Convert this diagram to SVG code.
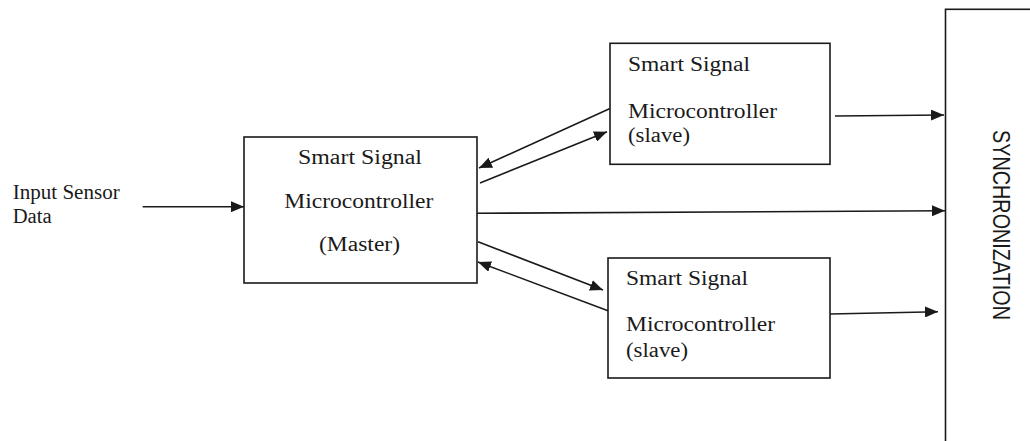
<svg xmlns="http://www.w3.org/2000/svg" width="1030" height="441" viewBox="0 0 1030 441">
<style>
.box{fill:#fff;stroke:#1a1a1a;stroke-width:1.6}
.t{font-family:"Liberation Serif","Times New Roman",serif;font-size:20px;fill:#1a1a1a}
.s{font-family:"Liberation Sans",Arial,sans-serif;font-size:19.7px;fill:#1a1a1a}
.c{fill:none;stroke:#1a1a1a;stroke-width:1.6}
</style>
<defs>
<marker id="ah" markerUnits="userSpaceOnUse" markerWidth="13" markerHeight="11" refX="13" refY="5.5" orient="auto">
<path d="M0,0 L13,5.5 L0,11 z" fill="#1a1a1a"/>
</marker>
</defs>
<rect width="1030" height="441" fill="#fff"/>
<g id="input">
<text class="t" x="12.7" y="199.3" textLength="107" lengthAdjust="spacingAndGlyphs">Input Sensor</text>
<text class="t" x="12.7" y="223.3" textLength="39" lengthAdjust="spacingAndGlyphs">Data</text>
</g>
<g id="master">
<rect class="box" x="244" y="137" width="233" height="146"/>
<text class="t" x="298" y="164.3" textLength="124" lengthAdjust="spacingAndGlyphs">Smart Signal</text>
<text class="t" x="284.3" y="207.7" textLength="149" lengthAdjust="spacingAndGlyphs">Microcontroller</text>
<text class="t" x="319" y="251" textLength="81" lengthAdjust="spacingAndGlyphs">(Master)</text>
</g>
<g id="slave1">
<rect class="box" x="610" y="43.3" width="220" height="121"/>
<text class="t" x="628" y="70.7" textLength="122" lengthAdjust="spacingAndGlyphs">Smart Signal</text>
<text class="t" x="628" y="117.5" textLength="149" lengthAdjust="spacingAndGlyphs">Microcontroller</text>
<text class="t" x="628" y="141.5" textLength="62" lengthAdjust="spacingAndGlyphs">(slave)</text>
</g>
<g id="slave2">
<rect class="box" x="608" y="258" width="222" height="120"/>
<text class="t" x="626" y="285" textLength="122" lengthAdjust="spacingAndGlyphs">Smart Signal</text>
<text class="t" x="626" y="331" textLength="149" lengthAdjust="spacingAndGlyphs">Microcontroller</text>
<text class="t" x="626" y="356.7" textLength="62" lengthAdjust="spacingAndGlyphs">(slave)</text>
</g>
<g id="sync">
<rect class="box" x="945.5" y="9.3" width="100" height="450"/>
<text class="s" transform="translate(993,130) scale(1.2,1) rotate(90)" x="0" y="0" textLength="190" lengthAdjust="spacingAndGlyphs">SYNCHRONIZATION</text>
</g>
<g id="connectors">
<line class="c" x1="142.7" y1="206.7" x2="244" y2="206.7" marker-end="url(#ah)"/>
<line class="c" x1="477" y1="213.3" x2="945" y2="210.7" marker-end="url(#ah)"/>
<line class="c" x1="610" y1="108.5" x2="479" y2="168" marker-end="url(#ah)"/>
<line class="c" x1="480" y1="183" x2="607" y2="131.7" marker-end="url(#ah)"/>
<line class="c" x1="478" y1="241.7" x2="603" y2="290" marker-end="url(#ah)"/>
<line class="c" x1="608" y1="310.7" x2="478" y2="262" marker-end="url(#ah)"/>
<line class="c" x1="835" y1="116" x2="944" y2="115" marker-end="url(#ah)"/>
<line class="c" x1="830" y1="314" x2="938" y2="311.7" marker-end="url(#ah)"/>
</g>
</svg>
